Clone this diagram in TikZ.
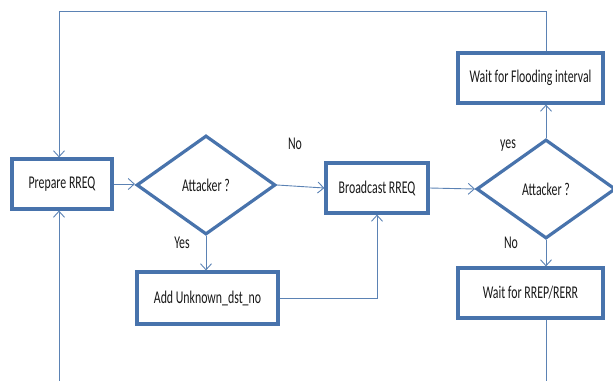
\documentclass[tikz,border=0pt]{standalone}
\usepackage{fontspec}
\setmainfont[FakeStretch=0.66]{Carlito}
\usetikzlibrary{shapes.geometric,arrows.meta}
\definecolor{boxblue}{HTML}{4873AC}
\definecolor{lineblue}{HTML}{5B82B4}
\tikzset{
  x=1bp, y=-1bp,
  every node/.style={font=\fontsize{18}{21}\selectfont, text=black!90},
  procbox/.style={draw=boxblue, line width=3.2bp, rectangle, fill=white, inner sep=0pt},
  decision/.style={draw=boxblue, line width=3.2bp, diamond, fill=white, inner sep=0pt, minimum width=139bp, minimum height=99bp},
  conn/.style={draw=lineblue, line width=0.9bp},
  arr/.style={conn, -{Straight Barb[length=6bp,width=11bp,line width=0.9bp]}},
  lbl/.style={inner sep=0pt}
}
\begin{document}
\begin{tikzpicture}
\useasboundingbox (0,0) rectangle (613,380);
\node[procbox, minimum width=100bp, minimum height=50bp] (prep) at (62,184) {Prepare RREQ};
\node[decision] (d1) at (206,185) {Attacker ?};
\node[procbox, minimum width=141bp, minimum height=52bp] (add) at (207.5,298) {Add Unknown\_dst\_no};
\node[procbox, minimum width=102bp, minimum height=50bp] (bc) at (377,188) {Broadcast RREQ};
\node[decision] (d2) at (546,189) {Attacker ?};
\node[procbox, minimum width=145bp, minimum height=50bp] (fl) at (530.5,78) {Wait for Flooding interval};
\node[procbox, minimum width=145bp, minimum height=50bp] (rr) at (530.5,293) {Wait for RREP/RERR};
\node[lbl] (no1) at (295,144) {No};
\node[lbl] (yes1) at (182,243) {Yes};
\node[lbl] (yes2) at (508,146) {yes};
\node[lbl] (no2) at (511,243) {No};
\coordinate (tl) at (59,11);
\coordinate (bl) at (59,381);
\coordinate (br) at (546,381);
\draw[arr] (prep.east) -- (prep.east -| d1.west);
\draw[arr] (d1.east) -- (bc.west);
\draw[arr] (bc.east) -- (d2.west);
\draw[arr] (d1.south) -- (d1.south |- add.north);
\draw[arr] (add.east) -| (bc.south);
\draw[arr] (d2.north) -- (d2.north |- fl.south);
\draw[arr] (d2.south) -- (d2.south |- rr.north);
\draw[arr] (d2.north |- fl.north) |- (tl) -- (tl |- prep.north);
\draw[conn] (d2.south |- rr.south) -- (br);
\draw[arr] (bl) -- (bl |- prep.south);
\end{tikzpicture}
\end{document}
